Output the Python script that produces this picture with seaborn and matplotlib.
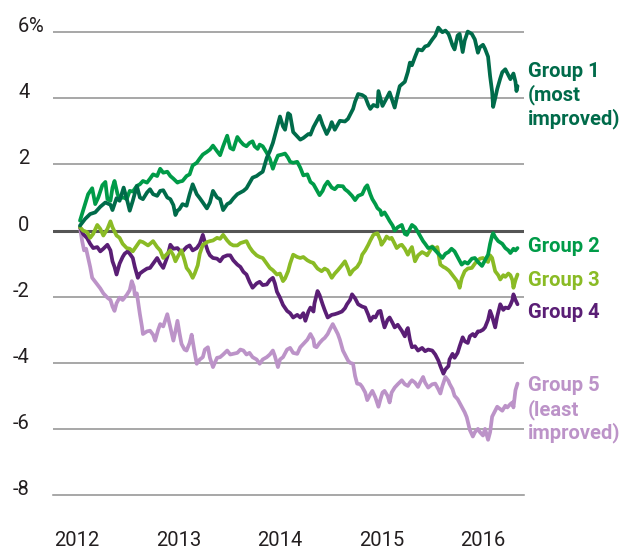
import numpy as np
import pandas as pd
import matplotlib
matplotlib.use("Agg")
import matplotlib.pyplot as plt
import seaborn as sns

# values: (years since start of 2012, % change)
group1 = [(0.03, 0.15), (0.08, 0.35), (0.13, 0.5), (0.18, 0.55), (0.23, 0.72), (0.28, 0.85), (0.33, 0.78), (0.35, 0.62),
          (0.39, 0.98), (0.42, 0.9), (0.46, 1.3), (0.50, 0.85), (0.52, 0.6), (0.55, 0.9), (0.59, 1.35), (0.62, 1.0),
          (0.65, 0.95), (0.69, 1.15), (0.72, 1.25), (0.75, 1.1), (0.79, 1.05), (0.82, 1.2), (0.85, 1.22), (0.89, 1.0),
          (0.92, 0.95), (0.95, 0.77), (0.97, 0.47), (0.99, 0.6), (1.01, 0.65), (1.04, 0.8), (1.08, 0.75), (1.11, 1.1),
          (1.14, 1.4), (1.18, 1.1), (1.21, 0.98), (1.24, 0.85), (1.28, 0.67), (1.31, 0.85), (1.34, 1.2), (1.38, 1.0),
          (1.41, 0.95), (1.44, 0.62), (1.48, 0.8), (1.51, 0.85), (1.54, 0.97), (1.58, 1.1), (1.64, 1.2), (1.67, 1.28),
          (1.73, 1.6), (1.77, 1.65), (1.80, 1.72), (1.83, 1.78), (1.87, 2.2), (1.90, 2.4), (1.93, 2.65), (1.97, 3.1),
          (2.00, 3.45), (2.03, 3.15), (2.05, 3.05), (2.08, 3.55), (2.10, 3.5), (2.13, 2.98), (2.17, 2.85), (2.20, 2.75),
          (2.23, 2.8), (2.28, 2.92), (2.30, 2.9), (2.33, 3.13), (2.36, 3.3), (2.39, 3.47), (2.42, 3.2), (2.46, 2.92),
          (2.49, 3.1), (2.51, 3.28), (2.54, 3.05), (2.59, 3.32), (2.64, 3.3), (2.67, 3.38), (2.69, 3.5), (2.72, 3.68),
          (2.74, 3.9), (2.77, 4.13), (2.81, 4.1), (2.84, 4.04), (2.87, 3.8), (2.89, 3.68), (2.92, 3.8), (2.96, 3.75),
          (2.97, 4.22), (2.99, 4.0), (3.01, 3.77), (3.05, 4.0), (3.08, 4.18), (3.11, 3.9), (3.13, 3.72), (3.15, 4.0),
          (3.18, 4.37), (3.21, 4.45), (3.23, 4.5), (3.26, 4.8), (3.28, 5.08), (3.30, 5.0), (3.33, 5.25), (3.36, 5.48),
          (3.40, 5.45), (3.43, 5.57), (3.46, 5.6), (3.50, 5.78), (3.53, 5.9), (3.56, 6.14), (3.60, 6.0), (3.63, 6.05),
          (3.66, 5.95), (3.67, 5.87), (3.70, 5.6), (3.72, 5.48), (3.75, 5.9), (3.77, 5.95), (3.80, 5.4), (3.82, 5.75),
          (3.85, 6.02), (3.89, 5.95), (3.92, 5.78), (3.95, 5.38), (3.97, 5.55), (4.00, 5.62), (4.02, 5.5), (4.05, 5.26),
          (4.07, 4.67), (4.09, 4.2), (4.10, 3.74), (4.12, 4.0), (4.14, 4.28), (4.17, 4.6), (4.19, 4.79), (4.22, 4.88),
          (4.25, 4.7), (4.27, 4.58), (4.30, 4.75), (4.32, 4.5), (4.33, 4.22), (4.34, 4.37)]

group2 = [(0.03, 0.3), (0.08, 0.8), (0.11, 1.1), (0.15, 1.28), (0.18, 0.8), (0.21, 1.0), (0.25, 1.37), (0.28, 1.47),
          (0.30, 0.95), (0.33, 0.9), (0.35, 1.3), (0.37, 1.5), (0.40, 1.1), (0.42, 0.98), (0.46, 1.0), (0.49, 0.95),
          (0.52, 1.2), (0.55, 1.18), (0.59, 1.35), (0.62, 1.4), (0.65, 1.5), (0.69, 1.45), (0.72, 1.57), (0.75, 1.7),
          (0.79, 1.65), (0.82, 1.87), (0.85, 1.75), (0.89, 1.78), (0.92, 1.65), (0.95, 1.57), (0.99, 1.45), (1.01, 1.48),
          (1.04, 1.5), (1.08, 1.65), (1.11, 1.7), (1.14, 1.97), (1.18, 2.05), (1.21, 2.18), (1.24, 2.3), (1.28, 2.38),
          (1.31, 2.45), (1.34, 2.57), (1.38, 2.4), (1.41, 2.28), (1.44, 2.55), (1.48, 2.87), (1.51, 2.5), (1.54, 2.45),
          (1.58, 2.83), (1.61, 2.7), (1.64, 2.6), (1.67, 2.55), (1.70, 2.65), (1.73, 2.7), (1.75, 2.55), (1.78, 2.47),
          (1.80, 2.6), (1.83, 2.55), (1.87, 2.35), (1.90, 2.17), (1.93, 1.87), (1.95, 2.05), (1.98, 2.27), (2.02, 2.3),
          (2.05, 2.33), (2.08, 2.2), (2.10, 2.08), (2.13, 2.05), (2.17, 2.08), (2.20, 1.9), (2.23, 1.67), (2.27, 1.7),
          (2.30, 1.47), (2.33, 1.4), (2.37, 1.18), (2.39, 1.07), (2.42, 1.2), (2.44, 1.35), (2.47, 1.48), (2.51, 1.3),
          (2.54, 1.25), (2.57, 1.35), (2.62, 1.34), (2.64, 1.25), (2.67, 1.18), (2.71, 1.05), (2.74, 0.92), (2.77, 1.05),
          (2.81, 1.1), (2.84, 1.3), (2.86, 1.37), (2.89, 1.1), (2.91, 0.95), (2.94, 0.8), (2.96, 0.68), (2.99, 0.6),
          (3.00, 0.47), (3.03, 0.55), (3.06, 0.4), (3.08, 0.29), (3.11, 0.15), (3.13, 0.0), (3.16, 0.1), (3.20, 0.17),
          (3.23, -0.1), (3.25, -0.13), (3.28, 0.05), (3.30, 0.17), (3.33, 0.1), (3.36, -0.05), (3.41, -0.32), (3.43, -0.4),
          (3.46, -0.53), (3.50, -0.5), (3.53, -0.6), (3.56, -0.7), (3.60, -0.83), (3.63, -0.7), (3.66, -0.65), (3.69, -0.55),
          (3.72, -0.63), (3.75, -0.8), (3.79, -1.03), (3.82, -0.95), (3.85, -1.0), (3.89, -0.85), (3.92, -0.83), (3.95, -0.95),
          (3.99, -1.07), (4.02, -0.9), (4.05, -0.73), (4.07, -0.4), (4.09, -0.15), (4.10, -0.08), (4.12, -0.2), (4.15, -0.32),
          (4.19, -0.4), (4.22, -0.53), (4.25, -0.6), (4.27, -0.68), (4.30, -0.55), (4.32, -0.6), (4.34, -0.53)]

group3 = [(0.03, 0.1), (0.06, 0.0), (0.10, -0.05), (0.13, -0.22), (0.16, -0.1), (0.20, 0.17), (0.23, 0.05), (0.26, -0.15),
          (0.30, 0.05), (0.33, 0.28), (0.35, 0.1), (0.39, -0.15), (0.42, -0.22), (0.45, -0.4), (0.49, -0.53), (0.52, -0.55),
          (0.55, -0.63), (0.59, -0.45), (0.62, -0.32), (0.65, -0.35), (0.70, -0.45), (0.72, -0.4), (0.75, -0.32), (0.79, -0.5),
          (0.82, -0.6), (0.85, -0.83), (0.89, -0.7), (0.92, -0.6), (0.95, -0.75), (0.97, -0.93), (1.00, -0.75), (1.03, -0.6),
          (1.06, -0.9), (1.08, -1.13), (1.11, -1.25), (1.14, -1.43), (1.16, -1.3), (1.19, -1.05), (1.21, -0.7), (1.24, -0.43),
          (1.28, -0.35), (1.31, -0.32), (1.34, -0.3), (1.38, -0.22), (1.41, -0.25), (1.44, -0.13), (1.48, -0.3), (1.51, -0.4),
          (1.54, -0.45), (1.58, -0.45), (1.61, -0.38), (1.64, -0.35), (1.67, -0.32), (1.70, -0.5), (1.73, -0.63), (1.77, -0.75),
          (1.80, -0.8), (1.83, -0.83), (1.87, -1.0), (1.90, -1.13), (1.93, -1.2), (1.97, -1.33), (2.00, -1.3), (2.03, -1.53),
          (2.05, -1.45), (2.08, -1.23), (2.10, -1.0), (2.13, -0.73), (2.17, -0.8), (2.20, -0.83), (2.23, -0.8), (2.27, -0.9),
          (2.30, -0.95), (2.33, -0.98), (2.34, -1.03), (2.37, -1.15), (2.41, -1.23), (2.44, -1.15), (2.47, -1.2), (2.51, -1.43),
          (2.54, -1.3), (2.57, -1.2), (2.61, -1.05), (2.64, -0.93), (2.67, -1.15), (2.69, -1.33), (2.72, -1.2), (2.76, -1.1),
          (2.79, -0.95), (2.81, -0.73), (2.84, -0.6), (2.87, -0.43), (2.89, -0.3), (2.92, -0.13), (2.94, -0.1), (2.96, -0.08),
          (2.99, -0.3), (3.00, -0.43), (3.03, -0.3), (3.05, -0.18), (3.08, -0.25), (3.10, -0.22), (3.13, -0.4), (3.15, -0.53),
          (3.18, -0.45), (3.20, -0.43), (3.23, -0.55), (3.26, -0.73), (3.28, -0.6), (3.30, -0.5), (3.33, -0.93), (3.36, -0.75),
          (3.40, -0.65), (3.43, -0.7), (3.45, -0.75), (3.48, -0.6), (3.50, -0.48), (3.53, -0.55), (3.55, -0.5), (3.58, -1.03),
          (3.61, -1.1), (3.63, -1.13), (3.66, -1.2), (3.67, -1.23), (3.70, -1.35), (3.72, -1.43), (3.75, -1.55), (3.77, -1.73),
          (3.79, -1.45), (3.82, -1.23), (3.85, -1.15), (3.89, -1.13), (3.92, -1.0), (3.94, -0.93), (3.97, -0.85), (4.00, -0.83),
          (4.03, -0.9), (4.05, -0.95), (4.07, -0.75), (4.09, -0.83), (4.12, -1.23), (4.15, -1.35), (4.17, -1.48), (4.20, -1.35),
          (4.22, -1.4), (4.25, -1.3), (4.27, -1.35), (4.29, -1.5), (4.30, -1.73), (4.32, -1.5), (4.34, -1.33)]

group4 = [(0.03, 0.1), (0.06, -0.1), (0.10, -0.23), (0.13, -0.4), (0.16, -0.53), (0.20, -0.5), (0.23, -0.63), (0.26, -0.55),
          (0.30, -0.43), (0.33, -0.6), (0.35, -0.93), (0.37, -1.1), (0.39, -1.33), (0.42, -1.0), (0.45, -0.8), (0.47, -0.7),
          (0.50, -0.63), (0.52, -0.7), (0.55, -0.83), (0.57, -1.1), (0.60, -1.43), (0.62, -1.3), (0.65, -1.23), (0.69, -1.15),
          (0.72, -1.13), (0.75, -1.0), (0.79, -0.83), (0.82, -1.0), (0.85, -1.13), (0.89, -0.8), (0.92, -0.43), (0.95, -0.55),
          (0.99, -0.53), (1.01, -0.6), (1.04, -0.63), (1.08, -0.5), (1.11, -0.45), (1.14, -0.6), (1.18, -0.53), (1.21, -0.4),
          (1.24, -0.13), (1.26, -0.35), (1.29, -0.63), (1.31, -0.75), (1.34, -0.83), (1.38, -0.85), (1.41, -0.93), (1.44, -0.8),
          (1.48, -0.75), (1.51, -0.75), (1.54, -0.9), (1.58, -1.03), (1.61, -1.1), (1.64, -1.25), (1.67, -1.33), (1.70, -1.55),
          (1.73, -1.73), (1.77, -1.6), (1.80, -1.55), (1.83, -1.65), (1.87, -1.63), (1.90, -1.5), (1.93, -1.43), (1.95, -1.6),
          (1.97, -1.85), (2.00, -2.03), (2.03, -2.25), (2.07, -2.43), (2.10, -2.5), (2.13, -2.63), (2.17, -2.55), (2.20, -2.63),
          (2.23, -2.5), (2.25, -2.73), (2.28, -2.45), (2.30, -2.33), (2.33, -2.45), (2.34, -2.2), (2.37, -1.83), (2.39, -1.95),
          (2.42, -2.23), (2.44, -2.4), (2.47, -2.63), (2.51, -2.55), (2.54, -2.53), (2.57, -2.5), (2.61, -2.45), (2.64, -2.35),
          (2.66, -2.23), (2.69, -2.1), (2.71, -1.93), (2.74, -2.05), (2.77, -2.23), (2.81, -2.3), (2.84, -2.33), (2.87, -2.55),
          (2.89, -2.73), (2.92, -2.6), (2.94, -2.63), (2.97, -2.45), (2.99, -2.43), (3.01, -2.7), (3.03, -2.93), (3.06, -2.7),
          (3.08, -2.63), (3.11, -2.8), (3.13, -2.93), (3.16, -2.85), (3.20, -3.03), (3.23, -3.2), (3.25, -3.0), (3.26, -2.95),
          (3.28, -3.3), (3.30, -3.53), (3.33, -3.5), (3.36, -3.63), (3.40, -3.55), (3.43, -3.65), (3.46, -3.6), (3.50, -3.63),
          (3.53, -3.75), (3.56, -3.93), (3.58, -4.1), (3.61, -4.33), (3.63, -4.2), (3.66, -4.1), (3.67, -3.9), (3.70, -3.73),
          (3.72, -3.85), (3.75, -3.7), (3.77, -3.5), (3.80, -3.23), (3.82, -3.35), (3.85, -3.4), (3.87, -3.2), (3.90, -3.13),
          (3.92, -3.2), (3.95, -3.05), (3.97, -3.05), (4.00, -3.0), (4.02, -2.93), (4.05, -2.7), (4.07, -2.43), (4.09, -2.6),
          (4.12, -2.93), (4.14, -2.6), (4.17, -2.23), (4.20, -2.4), (4.22, -2.33), (4.25, -2.35), (4.27, -2.25), (4.29, -2.1),
          (4.30, -1.93), (4.32, -2.1), (4.34, -2.23)]

group5 = [(0.03, 0.1), (0.05, -0.3), (0.07, -0.6), (0.09, -0.55), (0.11, -0.83), (0.13, -1.1), (0.15, -1.43), (0.18, -1.55),
          (0.20, -1.63), (0.23, -1.75), (0.26, -1.9), (0.30, -2.03), (0.33, -2.1), (0.35, -2.3), (0.37, -2.43), (0.39, -2.2),
          (0.42, -2.03), (0.45, -2.1), (0.49, -1.95), (0.52, -1.8), (0.54, -1.53), (0.56, -1.7), (0.57, -1.95), (0.59, -1.9),
          (0.62, -2.53), (0.64, -2.9), (0.65, -3.13), (0.69, -3.05), (0.72, -3.03), (0.75, -3.15), (0.77, -3.33), (0.80, -3.0),
          (0.82, -2.83), (0.85, -2.9), (0.89, -2.53), (0.92, -2.93), (0.95, -3.33), (0.97, -3.05), (0.99, -2.73), (1.01, -3.1),
          (1.03, -3.43), (1.06, -3.6), (1.08, -3.63), (1.11, -3.4), (1.13, -3.15), (1.16, -3.7), (1.18, -4.03), (1.21, -3.9),
          (1.24, -3.83), (1.26, -3.6), (1.29, -3.53), (1.31, -3.85), (1.34, -4.13), (1.38, -3.85), (1.41, -3.83), (1.44, -3.75),
          (1.48, -3.63), (1.51, -3.75), (1.54, -3.73), (1.58, -3.7), (1.61, -3.6), (1.64, -3.63), (1.67, -3.75), (1.70, -3.7),
          (1.73, -3.83), (1.77, -3.9), (1.80, -4.03), (1.83, -3.9), (1.87, -3.83), (1.90, -3.75), (1.93, -3.63), (1.95, -3.8),
          (1.98, -4.13), (2.00, -3.9), (2.03, -3.83), (2.07, -3.6), (2.10, -3.55), (2.13, -3.7), (2.17, -3.73), (2.20, -3.53),
          (2.23, -3.43), (2.27, -3.3), (2.30, -3.13), (2.33, -3.3), (2.34, -3.5), (2.36, -3.53), (2.39, -3.4), (2.42, -3.3),
          (2.44, -3.25), (2.47, -3.13), (2.49, -3.0), (2.52, -2.83), (2.54, -2.95), (2.57, -3.13), (2.59, -3.3), (2.62, -3.63),
          (2.64, -3.75), (2.67, -3.93), (2.69, -4.0), (2.72, -4.03), (2.74, -4.4), (2.76, -4.63), (2.79, -4.65), (2.81, -4.73),
          (2.84, -4.9), (2.86, -5.13), (2.89, -4.95), (2.91, -4.85), (2.94, -5.05), (2.97, -5.33), (2.99, -5.1), (3.01, -4.9),
          (3.03, -4.85), (3.06, -5.0), (3.08, -5.2), (3.10, -4.9), (3.13, -4.75), (3.16, -4.65), (3.20, -4.53), (3.23, -4.65),
          (3.26, -4.7), (3.28, -4.6), (3.30, -4.53), (3.33, -4.6), (3.36, -4.73), (3.38, -4.6), (3.41, -4.43), (3.43, -4.6),
          (3.46, -4.75), (3.50, -4.65), (3.53, -4.63), (3.56, -4.8), (3.58, -4.93), (3.60, -4.7), (3.63, -4.43), (3.66, -4.55),
          (3.67, -4.63), (3.70, -4.8), (3.72, -5.0), (3.75, -5.1), (3.79, -5.33), (3.82, -5.5), (3.84, -5.65), (3.87, -6.03),
          (3.90, -6.23), (3.92, -6.1), (3.95, -6.0), (3.97, -6.1), (4.00, -6.2), (4.02, -6.0), (4.05, -6.33), (4.07, -6.1),
          (4.09, -5.63), (4.12, -5.45), (4.14, -5.33), (4.17, -5.4), (4.19, -5.45), (4.22, -5.3), (4.24, -5.35), (4.27, -5.25),
          (4.29, -5.2), (4.30, -5.35), (4.32, -4.83), (4.34, -4.63)]

group_names = ['Group 1', 'Group 2', 'Group 3', 'Group 4', 'Group 5']
group_colors = ['#006b4a', '#009b48', '#8abb25', '#5a1e75', '#bc93c8']
label_lines = [['Group 1', '(most', 'improved)'], ['Group 2'], ['Group 3'], ['Group 4'],
               ['Group 5', '(least', 'improved)']]
year_ticks = [2012, 2013, 2014, 2015, 2016]
y_ticks = [-8, -6, -4, -2, 0, 2, 4, 6]

# long-form table for seaborn
rows = []
for name, series in zip(group_names, [group1, group2, group3, group4, group5]):
    for t, v in series:
        rows.append({'year': 2012 + t, 'change': v, 'group': name})
df = pd.DataFrame(rows)

sns.set_style("white")
plt.rcParams['font.family'] = ['Roboto', 'DejaVu Sans']

fig = plt.figure(figsize=(6.31, 5.51), dpi=100)
ax = fig.add_axes([53 / 631, 56 / 551, 471 / 631, 476 / 551])

# grid lines first so series sit on top
for y in y_ticks:
    if y == 0:
        ax.axhline(0, color='#555555', lw=2.2, zorder=1)
    elif y != -8:
        ax.axhline(y, color='#8f8f8f', lw=1.1, zorder=1)

sns.lineplot(data=df, x='year', y='change', hue='group', hue_order=group_names[::-1],
             palette=dict(zip(group_names, group_colors)), estimator=None, sort=False,
             linewidth=2.7, legend=False, ax=ax, zorder=3)

ax.set_xlim(2011.764, 2016.404)
ax.set_ylim(-8, 6.4)
ax.set_xlabel('')
ax.set_ylabel('')

for s in ['left', 'right', 'top']:
    ax.spines[s].set_visible(False)
ax.spines['bottom'].set_color('#8f8f8f')
ax.spines['bottom'].set_linewidth(1.1)

ax.set_xticks(year_ticks)
ax.set_xticklabels([str(y) for y in year_ticks])
ax.tick_params(axis='x', direction='out', length=11, width=1.1, color='#8f8f8f',
               pad=15, labelsize=14.5, labelcolor='#231f20')

ax.set_yticks(y_ticks)
ax.set_yticklabels([str(y) for y in y_ticks])
ax.tick_params(axis='y', length=0, pad=17, labelsize=14.5, labelcolor='#231f20')
for lbl in ax.get_yticklabels():
    lbl.set_verticalalignment('baseline')
ax.text(-0.052, 6, '%', transform=ax.get_yaxis_transform(), ha='left', va='baseline',
        fontsize=14.5, color='#231f20')

# direct labels at the right end
label_base = [4.65, -0.66, -1.69, -2.66, -4.86]
line_step = 0.72
for lines, base, col in zip(label_lines, label_base, group_colors):
    for i, txt in enumerate(lines):
        ax.text(2016.445, base - i * line_step, txt, color=col, fontsize=14.5,
                fontweight='bold', ha='left', va='baseline', clip_on=False)

fig.savefig('out.png', dpi=100)
